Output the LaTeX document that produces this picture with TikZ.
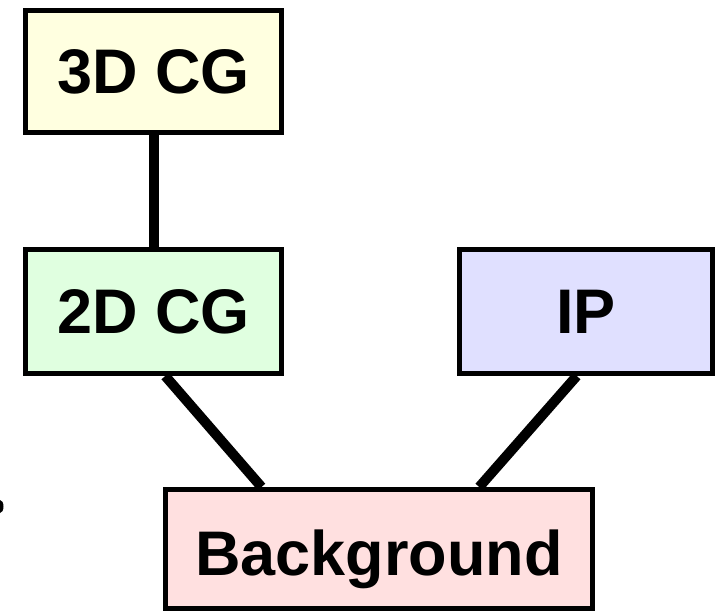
\documentclass[tikz,border=0pt]{standalone}
\usepackage{fontspec}
\setmainfont{Liberation Sans}
\usetikzlibrary{calc,shapes.geometric}
\definecolor{cyellow}{HTML}{FFFFE0}
\definecolor{cgreen}{HTML}{E0FFE0}
\definecolor{cblue}{HTML}{E0E0FF}
\definecolor{cpink}{HTML}{FFE0E0}
\tikzset{
  boxnode/.style={draw=black, line width=5pt, inner sep=0pt, text height=45pt, text depth=0pt, font=\fontsize{63}{63}\selectfont\bfseries},
  conn/.style={draw=black, line width=10pt}
}
\begin{document}
\begin{tikzpicture}[x=1pt,y=1pt]
\useasboundingbox (0,0) rectangle (715,611);
\node[boxnode, fill=cyellow, minimum width=256pt, minimum height=122pt] (3d) at (153.5,539.5) {3D CG};
\node[boxnode, fill=cgreen, minimum width=256pt, minimum height=124pt] (2d) at (153.5,299.5) {2D CG};
\node[boxnode, fill=cblue, minimum width=253pt, minimum height=124pt] (ip) at (586,299.5) {IP};
\node[boxnode, fill=cpink, minimum width=427pt, minimum height=119pt, text height=52pt] (bg) at (379,62) {Background};
\draw[conn] (3d.south) -- (2d.north);
\draw[conn] ($(2d.south west)!0.545!(2d.south east)$) -- ($(bg.north west)!0.228!(bg.north east)$);
\draw[conn] ($(ip.south west)!0.464!(ip.south east)$) -- ($(bg.north west)!0.732!(bg.north east)$);
\fill[black] (0,104.5) ellipse [x radius=3.5pt, y radius=6.5pt];
\end{tikzpicture}
\end{document}
